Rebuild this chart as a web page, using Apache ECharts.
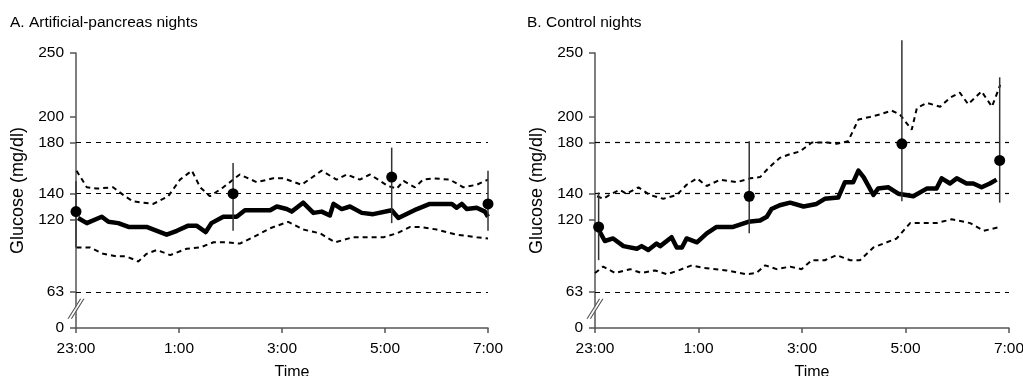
<!DOCTYPE html>
<html><head><meta charset="utf-8">
<script src="https://cdn.jsdelivr.net/npm/echarts@6/dist/echarts.min.js"></script>
<style>html,body{margin:0;padding:0;background:#fff}#c{width:1023px;height:376px}</style>
</head><body><div id="c"></div>
<script>
// ---- data (hours after 23:00, glucose mg/dl) ----
const panelTitles = ['A. Artificial-pancreas nights', 'B. Control nights'];
const xTickHours = [0, 2, 4, 6, 8];
const xTickLabels = ['23:00', '1:00', '3:00', '5:00', '7:00'];
const yTickValues = [0, 63, 120, 140, 180, 200, 250];
const refLines = [63, 140, 180];
const yBreakFloor = 35;      // axis is broken between 0 and 63; 0 is drawn here
const breakMarkValue = 50;   // where the "//" break mark sits

const apMean = [[0.04,121],[0.21,117],[0.50,122],[0.63,118],[0.82,117],[1.02,114],[1.37,114],[1.76,108],[1.96,111],[2.18,115],[2.34,115],[2.52,110],[2.63,117],[2.86,122],[3.12,122],[3.28,127],[3.77,127],[3.90,130],[4.09,128],[4.19,126],[4.41,133],[4.61,125],[4.77,126],[4.93,123],[5.00,132],[5.16,128],[5.32,130],[5.55,125],[5.77,124],[6.13,127],[6.26,121],[6.62,128],[6.87,132],[7.30,132],[7.39,129],[7.49,132],[7.59,128],[7.78,129],[7.94,126],[8.0,122]];
const apUpper = [[0.01,158],[0.21,145],[0.40,144],[0.72,145],[0.95,138],[1.11,134],[1.50,132],[1.79,138],[2.02,151],[2.25,158],[2.41,145],[2.60,138],[2.86,145],[3.18,155],[3.51,149],[3.83,152],[4.03,152],[4.38,147],[4.77,158],[5.06,151],[5.26,155],[5.51,151],[5.71,155],[6.06,146],[6.23,144],[6.36,150],[6.58,145],[6.74,151],[6.94,152],[7.26,151],[7.52,145],[7.78,147],[8.0,151]];
const apLower = [[0.01,98],[0.27,98],[0.53,93],[0.79,91],[0.98,91],[1.21,87],[1.37,93],[1.57,96],[1.83,92],[2.15,97],[2.41,98],[2.67,102],[2.93,102],[3.18,101],[3.44,106],[3.77,113],[4.12,118],[4.41,112],[4.74,109],[5.03,102],[5.38,106],[5.97,106],[6.23,109],[6.49,114],[6.68,114],[7.00,112],[7.39,108],[7.78,106],[8.0,105]];
const apBars = [[0.0,126,98,150],[3.05,140,111,164],[6.13,153,117,176],[8.0,132,111,158]]; // [hour, mean, low, high]

const ctMean = [[0.04,114],[0.19,103],[0.35,105],[0.55,99],[0.81,97],[0.90,99],[1.03,96],[1.19,101],[1.26,99],[1.48,106],[1.58,98],[1.68,98],[1.77,105],[1.97,102],[2.16,109],[2.35,114],[2.67,114],[2.96,118],[3.19,119],[3.32,122],[3.41,128],[3.57,131],[3.77,133],[4.03,130],[4.28,132],[4.44,136],[4.70,137],[4.83,149],[4.99,149],[5.09,158],[5.19,153],[5.38,139],[5.47,144],[5.67,145],[5.86,140],[6.15,138],[6.41,144],[6.60,144],[6.70,152],[6.86,148],[6.99,152],[7.18,148],[7.31,148],[7.47,145],[7.63,148],[7.76,151]];
const ctUpper = [[0.04,138],[0.16,136],[0.32,140],[0.48,143],[0.61,140],[0.84,145],[1.06,139],[1.32,136],[1.58,139],[1.77,147],[1.97,152],[2.16,146],[2.42,151],[2.74,149],[3.00,152],[3.19,153],[3.35,160],[3.57,168],[3.77,171],[3.96,173],[4.19,180],[4.48,180],[4.67,179],[4.89,181],[5.09,198],[5.31,200],[5.51,202],[5.73,205],[5.89,202],[6.12,190],[6.22,207],[6.41,211],[6.67,208],[6.86,215],[7.05,219],[7.21,210],[7.47,220],[7.67,208],[7.83,225]];
const ctLower = [[0.00,78],[0.16,83],[0.39,78],[0.68,81],[0.90,78],[1.16,80],[1.39,77],[1.61,80],[1.87,84],[2.09,82],[2.54,80],[2.93,77],[3.12,78],[3.29,84],[3.51,81],[3.77,83],[3.99,81],[4.19,88],[4.44,88],[4.67,92],[4.93,88],[5.12,88],[5.38,98],[5.64,102],[5.83,105],[6.09,117],[6.34,117],[6.60,117],[6.89,120],[7.25,117],[7.51,111],[7.83,114]];
const ctBars = [[0.07,114,88,141],[2.98,138,109,181],[5.93,179,134,260],[7.82,166,133,231]];

// ---- chart ----
const FONT = "'Liberation Sans', Arial, Helvetica, sans-serif";
const yPos = v => (v === 0 ? yBreakFloor : v);
const panels = [
  { left: 76, mean: apMean, upper: apUpper, lower: apLower, bars: apBars, titleLeft: 5 },
  { left: 595, mean: ctMean, upper: ctUpper, lower: ctLower, bars: ctBars, titleLeft: 522 }
];
const gridW = [412, 414];

const option = {
  animation: false,
  backgroundColor: '#fff',
  title: panels.map((p, i) => ({
    text: panelTitles[i], left: p.titleLeft, top: 10,
    textStyle: { fontFamily: FONT, fontSize: 15.5, fontWeight: 'normal', color: '#000' }
  })),
  grid: panels.map((p, i) => ({ left: p.left, top: 53, width: gridW[i], height: 275, containLabel: false, outerBoundsMode: 'none' })),
  xAxis: panels.map((p, i) => ({
    type: 'value', gridIndex: i, min: 0, max: 8, interval: 2,
    name: 'Time', nameLocation: 'middle', nameGap: 37,
    nameTextStyle: { fontFamily: FONT, fontSize: 16, color: '#000', padding: [0, 0, 0, 20] },
    axisLine: { lineStyle: { color: '#555', width: 1.5 } },
    axisTick: { show: true, length: 5, lineStyle: { color: '#555', width: 1.5 } },
    axisLabel: {
      fontFamily: FONT, fontSize: 15.5, color: '#000', margin: 13,
      formatter: v => xTickLabels[xTickHours.indexOf(v)] || ''
    },
    splitLine: { show: false }
  })),
  yAxis: panels.map((p, i) => ({
    type: 'value', gridIndex: i, min: yBreakFloor, max: 250,
    name: 'Glucose (mg/dl)', nameLocation: 'middle', nameGap: 49,
    nameTextStyle: { fontFamily: FONT, fontSize: 18, color: '#000' },
    axisLine: { show: true, lineStyle: { color: '#555', width: 1.5 } },
    axisTick: { show: true, length: 6, customValues: yTickValues.map(yPos), lineStyle: { color: '#555', width: 1.5 } },
    axisLabel: {
      fontFamily: FONT, fontSize: 15.5, color: '#000', margin: 12,
      customValues: yTickValues.map(yPos),
      formatter: v => (v === yBreakFloor ? '0' : String(v))
    },
    splitLine: { show: false }
  })),
  series: []
};

panels.forEach((p, i) => {
  option.series.push({
    type: 'line', xAxisIndex: i, yAxisIndex: i, data: p.upper, symbol: 'none',
    lineStyle: { color: '#000', width: 2, type: [5, 4] }, z: 3,
    markLine: {
      silent: true, symbol: 'none', label: { show: false },
      lineStyle: { color: '#000', width: 1.2, type: [5, 5] },
      data: refLines.map(v => ({ yAxis: v }))
    }
  });
  option.series.push({
    type: 'line', xAxisIndex: i, yAxisIndex: i, data: p.lower, symbol: 'none',
    lineStyle: { color: '#000', width: 2, type: [5, 4] }, z: 3
  });
  option.series.push({
    type: 'line', xAxisIndex: i, yAxisIndex: i, data: p.mean, symbol: 'none',
    lineStyle: { color: '#000', width: 4.5, join: 'round' }, z: 4
  });
  option.series.push({
    type: 'custom', xAxisIndex: i, yAxisIndex: i, data: p.bars, clip: false, z: 5,
    encode: { x: 0, y: 1 },
    renderItem: (params, api) => {
      const x = api.value(0);
      const pm = api.coord([x, api.value(1)]);
      const pl = api.coord([x, api.value(2)]);
      const ph = api.coord([x, api.value(3)]);
      return { type: 'group', children: [
        { type: 'line', shape: { x1: pl[0], y1: pl[1], x2: ph[0], y2: ph[1] }, style: { stroke: '#333', lineWidth: 1.5 } },
        { type: 'circle', shape: { cx: pm[0], cy: pm[1], r: 5.5 }, style: { fill: '#000' } }
      ]};
    }
  });
  // axis-break mark: white gap, then two slanted strokes
  option.series.push({
    type: 'scatter', xAxisIndex: i, yAxisIndex: i, data: [[0, breakMarkValue]], clip: false, z: 6,
    symbol: 'path://M0,20 L12.5,0 L17,0 L4.5,20 Z', symbolSize: [17, 20], symbolKeepAspect: false,
    itemStyle: { color: '#fff' }, silent: true
  });
  option.series.push({
    type: 'scatter', xAxisIndex: i, yAxisIndex: i, data: [[0, breakMarkValue]], clip: false, z: 7,
    symbol: 'path://M0,20 L12.5,0 L13.7,0 L1.2,20 Z M3.3,20 L15.8,0 L17,0 L4.5,20 Z',
    symbolSize: [17, 20], symbolKeepAspect: false,
    itemStyle: { color: '#222' }, silent: true
  });
});

const chart = echarts.init(document.getElementById('c'), null, { renderer: 'canvas' });
chart.setOption(option);
</script>
</body></html>
